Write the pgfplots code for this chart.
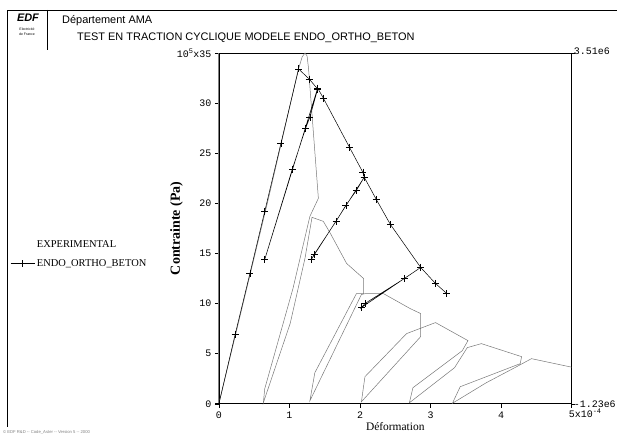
\documentclass[border=0pt]{standalone}
\usepackage{pgfplots}
\pgfplotsset{compat=1.18}
\usepackage{fontspec}
\setmainfont{Liberation Serif}
\newfontfamily\sansf{Liberation Sans}
\newfontfamily\monof{Liberation Mono}
\definecolor{expgray}{RGB}{120,120,120}
\begin{document}
\begin{tikzpicture}[x=1bp,y=1bp]
\path (0,0) rectangle (617,437);
% page frame
\draw[line width=0.7bp] (7,10) -- (7,427) -- (617,427);
\draw[line width=0.7bp] (47,427) -- (47,387);
\node[anchor=base,font=\sansf\bfseries\itshape\fontsize{11}{11}\selectfont,inner sep=0] at (28,415) {EDF};
\node[anchor=base,font=\sansf\fontsize{3.5}{3.5}\selectfont,inner sep=0] at (27,406) {Electricit\'e};
\node[anchor=base,font=\sansf\fontsize{3.5}{3.5}\selectfont,inner sep=0] at (27,401) {de France};
\node[anchor=base west,font=\sansf\fontsize{11}{11}\selectfont,inner sep=0] at (62,413) {Département AMA};
\node[anchor=base west,font=\sansf\fontsize{11}{11}\selectfont,inner sep=0] at (77,396) {TEST EN TRACTION CYCLIQUE MODELE ENDO\_ORTHO\_BETON};
\node[anchor=base west,font=\sansf\fontsize{4.2}{4.2}\selectfont,inner sep=0,text=gray] at (3,3) {\copyright{} EDF R\&D -- Code\_Aster -- Version 5 -- 2000};
% axis titles
\node[rotate=90, anchor=base, font=\bfseries\fontsize{14}{14}\selectfont, inner sep=0] at (180,208.5) {Contrainte (Pa)};
\node[anchor=base, font=\fontsize{11.5}{11.5}\selectfont, inner sep=0] at (395.5,6) {Déformation};
\begin{axis}[
  at={(219bp,33bp)}, anchor=south west,
  scale only axis, width=353bp, height=351bp,
  xmin=0, xmax=5, ymin=0, ymax=35,
  axis line style={line width=0.6bp},
  xtick={0,1,2,3,4}, xticklabels={0,1,2,3,4},
  ytick={0,5,10,15,20,25,30,35},
  yticklabels={0,5,10,15,20,25,30,{10\textsuperscript{5}x35}},
  tick align=outside, tick pos=left,
  major tick length=4bp,
  tick style={black,line width=0.5bp},
  ticklabel style={font=\monof\fontsize{10}{10}\selectfont},
  xticklabel style={yshift=-1bp},
  clip=false,
  legend style={at={(-0.5915,0.47)}, anchor=north west, draw=none, fill=none,
     font=\fontsize{10.5}{10.5}\selectfont, row sep=6bp, inner sep=0pt,
     cells={anchor=west}},
  legend image code/.code={\draw[mark repeat=2,mark phase=2,#1] plot coordinates {(0bp,0bp)(12bp,0bp)(24bp,0bp)};},
]
\addlegendimage{white}
\addlegendentry{EXPERIMENTAL}
\addplot[expgray, line width=0.5bp, forget plot] coordinates {
(0,0) (0.35,10.2) (0.70,20.4) (1.00,29.5) (1.12,33.2) (1.18,34.6) (1.22,35.0) (1.25,34.7) (1.27,33.5)
(1.41,20.5) (1.29,18.7) (1.05,11.5) (0.65,1.5) (0.63,0.1) (1.01,8.0) (1.22,14.5) (1.32,18.6)
(1.48,18.2) (1.58,17.0) (1.81,14.0) (2.05,12.5) (2.05,11.0) (1.95,11.0) (1.36,3.1) (1.29,0.3)
(2.02,10.9) (2.08,11.0) (2.33,11.0) (2.71,9.5) (2.86,9.0) (2.86,6.7) (2.02,0.2) (2.07,2.7)
(2.66,7.0) (3.07,8.1) (3.53,6.3) (3.45,5.3) (2.75,1.6) (2.70,0.1) (3.34,3.6) (3.52,5.6)
(3.72,6.0) (4.29,4.7) (4.27,4.0) (3.42,1.7) (3.31,0.05) (3.79,2.1) (4.22,3.7) (4.43,4.5) (5.0,3.65)
};
\addplot[black, line width=0.5bp, mark=+, mark size=3.5bp, mark options={line width=0.6bp}] coordinates {
(0,0) (0.23,6.9) (0.44,13.0) (0.65,19.2) (0.88,26.0) (1.13,33.4) (1.28,32.4) (1.40,31.4)
(1.29,28.6) (1.23,27.5) (1.04,23.4) (0.65,14.4) (1.40,31.5) (1.48,30.5) (1.85,25.6) (2.04,23.1)
(2.06,22.6) (1.95,21.3) (1.80,19.8) (1.66,18.2) (1.35,14.9) (1.31,14.4) (2.06,22.6) (2.23,20.4)
(2.43,17.9) (2.86,13.6) (2.63,12.5) (2.07,10.0) (2.02,9.6) (2.86,13.6) (3.07,12.0) (3.23,11.0)
};
\addlegendentry{ENDO\_ORTHO\_BETON}
% left spine in gray
\draw[gray, line width=1bp] (rel axis cs:0,0) -- (rel axis cs:0,1);
% x tick 5 label and right axis labels
\node[anchor=north west, font=\monof\fontsize{10}{10}\selectfont, inner sep=0, xshift=-3bp, yshift=-5bp] at (rel axis cs:1,0) {5x10\textsuperscript{-4}};
\draw[line width=0.5bp] (rel axis cs:1,0) -- ++(0,-4bp);
\draw[line width=0.5bp] (rel axis cs:1,1) -- ++(3bp,0);
\draw[line width=0.5bp] (rel axis cs:1,0) -- ++(3bp,0);
\node[anchor=west, font=\monof\fontsize{10}{10}\selectfont, inner sep=0, xshift=2bp, yshift=2bp] at (rel axis cs:1,1) {3.51e6};
\node[anchor=west, font=\monof\fontsize{10}{10}\selectfont, inner sep=0, xshift=2bp] at (rel axis cs:1,0) {-1.23e6};
\end{axis}
\end{tikzpicture}
\end{document}
